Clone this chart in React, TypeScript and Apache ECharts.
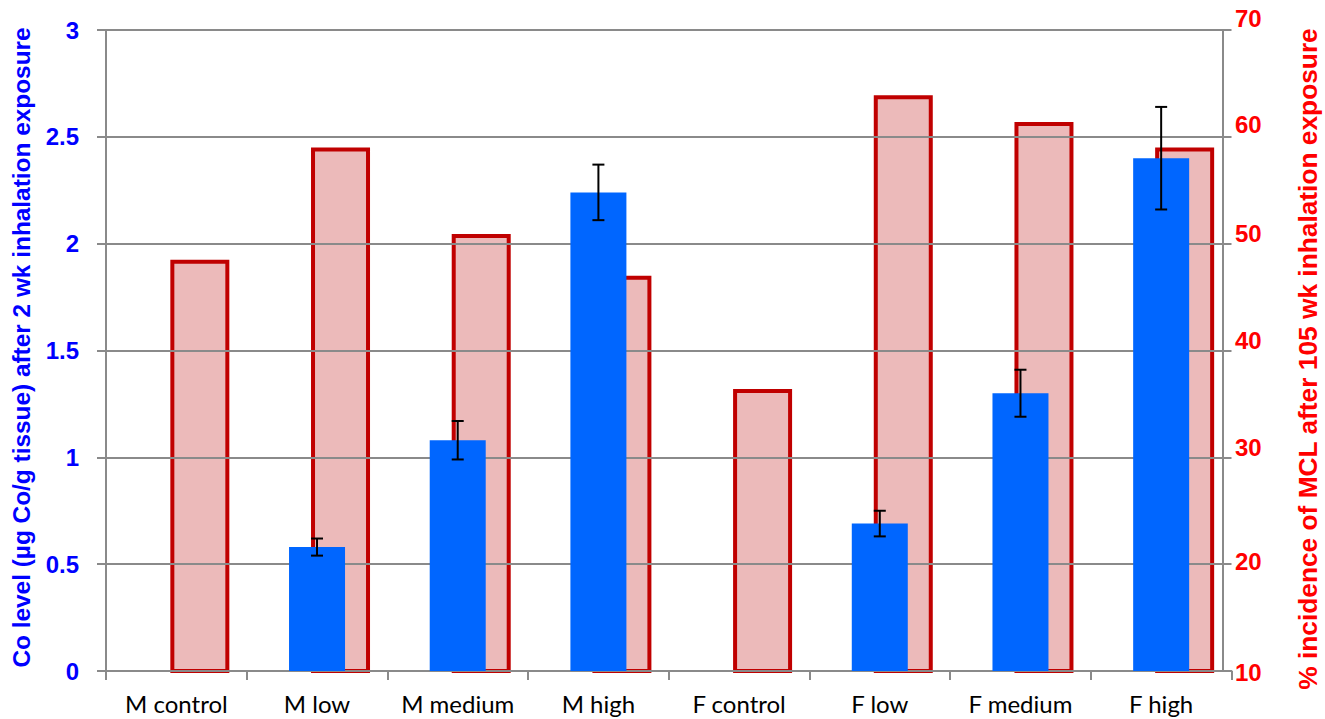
import React, { useEffect, useRef } from "react";
import * as echarts from "echarts";

// ---- data ----
const categories = ["M control", "M low", "M medium", "M high", "F control", "F low", "F medium", "F high"];
const coLevel = [0, 0.58, 1.08, 2.24, 0, 0.69, 1.3, 2.4];
const coError = [0, 0.04, 0.09, 0.13, 0, 0.06, 0.11, 0.24];
const mclIncidence = [48.5, 59.0, 50.9, 47.0, 36.4, 63.9, 61.4, 59.0];

const leftMin = 0;
const leftMax = 3;
const leftStep = 0.5;
const rightMin = 10;
const rightMax = 70;
const rightStep = 10;

const leftTitle = "Co level (\u00b5g Co/g tissue) after 2 wk inhalation exposure";
const rightTitle = "% incidence of MCL after 105 wk inhalation exposure";

// ---- styles ----
const GRAY = "#8a8a8a";
const BLUE = "#0066FF";
const PINK = "#ECBABA";
const DARKRED = "#C00000";
// vertical nudges (px, negative = up) of the right-axis labels, as in the original figure
const rightLabelShift: Record<string, number> = { "10": 1, "20": -3, "30": -10, "40": -10, "50": -10, "60": -12, "70": -12 };
const pinkShift = 0.167; // secondary bars sit right of the category centre

export default function App() {
  const ref = useRef<HTMLDivElement>(null);

  useEffect(() => {
    document.body.style.margin = "0";
    if (!ref.current) return;
    const chart = echarts.init(ref.current, null, { renderer: "svg" });

    const rich: Record<string, any> = {};
    Object.keys(rightLabelShift).forEach((k) => {
      const d = rightLabelShift[k];
      rich["r" + k] = {
        color: "#FF0000",
        fontFamily: "Liberation Sans",
        fontWeight: "bold",
        fontSize: 24,
        padding: d < 0 ? [0, 0, -2 * d, 0] : [2 * d, 0, 0, 0],
      };
    });

    const errData = categories
      .map((_, i) => (coError[i] > 0 ? [i, coLevel[i] - coError[i], coLevel[i] + coError[i]] : null))
      .filter((d) => d !== null);

    chart.setOption({
      animation: false,
      grid: {
        left: 106,
        right: 93.5,
        top: 30,
        bottom: 48,
        outerBoundsMode: "none",
      },
      xAxis: [
        {
          type: "category",
          data: categories,
          z: 1,
          axisLine: { show: true, onZero: false, lineStyle: { color: GRAY, width: 2 } },
          axisTick: { show: true, interval: 0, length: 9, lineStyle: { color: GRAY, width: 2 } },
          axisLabel: { interval: 0, color: "#000", fontFamily: "Lato", fontSize: 24, margin: 20 },
          splitLine: { show: false },
        },
        {
          type: "value",
          show: false,
          min: -0.5 - pinkShift,
          max: categories.length - 0.5 - pinkShift,
          axisLine: { show: false, onZero: false },
          splitLine: { show: false },
        },
      ],
      yAxis: [
        {
          type: "value",
          position: "left",
          min: leftMin,
          max: leftMax,
          interval: leftStep,
          z: 1,
          axisLine: { show: true, onZero: false, lineStyle: { color: GRAY, width: 2 } },
          axisTick: { show: true, length: 9, lineStyle: { color: GRAY, width: 2 } },
          splitLine: { show: true, lineStyle: { color: GRAY, width: 2 } },
          axisLabel: {
            color: "#0000FF",
            fontFamily: "Liberation Sans",
            fontWeight: "bold",
            fontSize: 24,
            margin: 27,
          },
          name: leftTitle,
          nameLocation: "middle",
          nameRotate: 90,
          nameGap: 73,
          nameTextStyle: {
            color: "#0000FF",
            fontFamily: "Liberation Sans",
            fontWeight: "bold",
            fontSize: 24.4,
            padding: [0, 0, 0, 6],
          },
        },
        {
          type: "value",
          position: "right",
          offset: -8.5,
          min: rightMin,
          max: rightMax,
          interval: rightStep,
          z: 1,
          axisLine: { show: true, onZero: false, lineStyle: { color: GRAY, width: 2 } },
          axisTick: { show: true, length: 7, lineStyle: { color: GRAY, width: 2 } },
          splitLine: { show: false },
          axisLabel: {
            margin: 12,
            color: "#FF0000",
            fontFamily: "Liberation Sans",
            fontWeight: "bold",
            fontSize: 24,
            formatter: (v: number) => `{r${v}|${v}}`,
            rich,
          },
          name: rightTitle,
          nameLocation: "middle",
          nameRotate: 90,
          nameGap: 71.5,
          nameTextStyle: {
            color: "#FF0000",
            fontFamily: "Liberation Sans",
            fontWeight: "bold",
            fontSize: 26.3,
            padding: [0, 17, 0, 0],
          },
        },
      ],
      series: [
        {
          name: "MCL incidence",
          type: "bar",
          xAxisIndex: 1,
          yAxisIndex: 1,
          z: 0.5,
          barWidth: 59,
          clip: true,
          data: mclIncidence.map((v, i) => [i, v]),
          itemStyle: { color: PINK, borderColor: DARKRED, borderWidth: 4 },
        },
        {
          name: "Co level",
          type: "bar",
          xAxisIndex: 0,
          yAxisIndex: 0,
          z: 2,
          barWidth: 56,
          data: coLevel,
          itemStyle: { color: BLUE },
        },
        {
          name: "Co error",
          type: "custom",
          xAxisIndex: 0,
          yAxisIndex: 0,
          z: 3,
          data: errData,
          encode: { x: 0, y: [1, 2] },
          renderItem: (params: any, api: any) => {
            const x = api.value(0);
            const lo = api.coord([x, api.value(1)]);
            const hi = api.coord([x, api.value(2)]);
            const w = 6;
            const st = { stroke: "#000", lineWidth: 2 };
            return {
              type: "group",
              children: [
                { type: "line", shape: { x1: hi[0], y1: hi[1], x2: lo[0], y2: lo[1] }, style: st },
                { type: "line", shape: { x1: hi[0] - w, y1: hi[1], x2: hi[0] + w, y2: hi[1] }, style: st },
                { type: "line", shape: { x1: lo[0] - w, y1: lo[1], x2: lo[0] + w, y2: lo[1] }, style: st },
              ],
            };
          },
        },
      ],
    });

    return () => chart.dispose();
  }, []);

  return <div ref={ref} style={{ width: 1325, height: 719 }} />;
}
